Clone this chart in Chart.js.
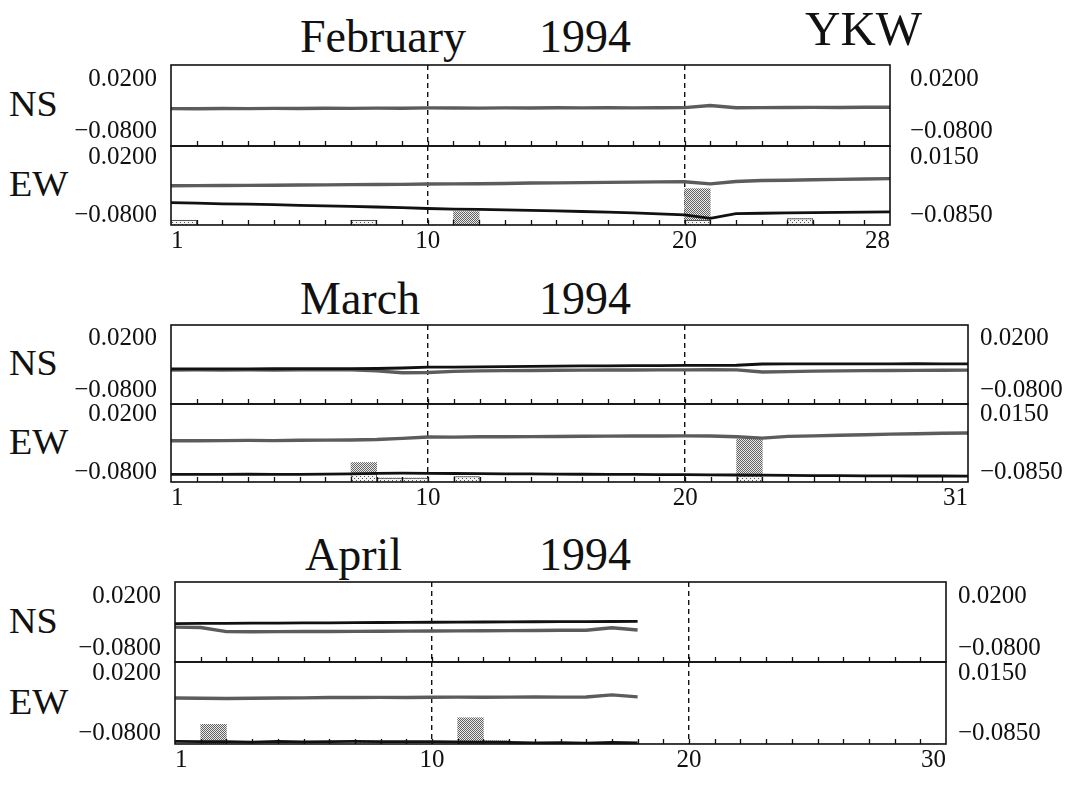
<!DOCTYPE html>
<html>
<head>
<meta charset="utf-8">
<script src="https://cdn.jsdelivr.net/npm/chart.js@4.4.0/dist/chart.umd.min.js"></script>
<style>
  body { margin: 0; background: #fff; }
  #page { position: relative; width: 1082px; height: 785px; font-family: "Liberation Serif", "Times New Roman", serif; color: #111; }
  .t { position: absolute; white-space: nowrap; line-height: 1; }
  .title { font-size: 46px; }
  .comp { font-size: 36px; transform: scaleX(1.06); transform-origin: left center; }
  canvas { position: absolute; left: 0; }
</style>
</head>
<body>
<div id="page">
  <div class="t title" style="left:300px;top:14px">February</div>
  <div class="t title" style="left:539px;top:14px">1994</div>
  <div class="t" style="left:805px;top:4px;font-size:49px">YKW</div>
  <div class="t comp" style="left:9px;top:86px">NS</div>
  <div class="t comp" style="left:9px;top:166px">EW</div>

  <div class="t title" style="left:300px;top:276px">March</div>
  <div class="t title" style="left:539px;top:276px">1994</div>
  <div class="t comp" style="left:9px;top:345px">NS</div>
  <div class="t comp" style="left:9px;top:424px">EW</div>

  <div class="t title" style="left:305px;top:532px">April</div>
  <div class="t title" style="left:539px;top:532px">1994</div>
  <div class="t comp" style="left:9px;top:603px">NS</div>
  <div class="t comp" style="left:9px;top:684px">EW</div>
</div>
<script>
// tick values
const nsTicks = [-0.08, 0.02];
const ewLeftTicks = [-0.08, 0.02];
const ewRightTicks = [-0.085, 0.015];

// February (days elapsed 0..28)
const febDays = [0,1,2,3,4,5,6,7,8,9,10,11,12,13,14,15,16,17,18,19,20,21,22,23,24,25,26,27,28];
const febNsGray = [-0.0360,-0.0362,-0.0358,-0.0360,-0.0355,-0.0358,-0.0352,-0.0355,-0.0350,-0.0352,-0.0345,-0.0348,-0.0350,-0.0346,-0.0348,-0.0344,-0.0346,-0.0342,-0.0345,-0.0342,-0.0340,-0.0300,-0.0342,-0.0340,-0.0338,-0.0336,-0.0338,-0.0334,-0.0333];
const febEwGray = [-0.0295,-0.0292,-0.0290,-0.0288,-0.0286,-0.0282,-0.0280,-0.0275,-0.0272,-0.0270,-0.0265,-0.0262,-0.0260,-0.0255,-0.0248,-0.0245,-0.0240,-0.0236,-0.0232,-0.0228,-0.0225,-0.0262,-0.0220,-0.0205,-0.0200,-0.0192,-0.0185,-0.0178,-0.0172];
const febEwBlack = [-0.0586,-0.0595,-0.0605,-0.0612,-0.0620,-0.0632,-0.0640,-0.0650,-0.0660,-0.0672,-0.0686,-0.0695,-0.0702,-0.0710,-0.0717,-0.0728,-0.0738,-0.0748,-0.0762,-0.0778,-0.0796,-0.0855,-0.0775,-0.0768,-0.0762,-0.0758,-0.0752,-0.0748,-0.0743];
const febLight = [6,0,0,0,0,0,0,6,0,0,0,0,0,0,0,0,0,0,0,0,6,0,0,0,8,0,0,0];
const febDark = [0,0,0,0,0,0,0,0,0,0,0,17,0,0,0,0,0,0,0,0,40,0,0,0,0,0,0,0];

// March (0..31)
const marDays = [0,1,2,3,4,5,6,7,8,9,10,11,12,13,14,15,16,17,18,19,20,21,22,23,24,25,26,27,28,29,30,31];
const marNsGray = [-0.0407,-0.0405,-0.0407,-0.0404,-0.0406,-0.0403,-0.0405,-0.0404,-0.0425,-0.0460,-0.0455,-0.0435,-0.0425,-0.0420,-0.0418,-0.0412,-0.0410,-0.0408,-0.0406,-0.0405,-0.0404,-0.0402,-0.0405,-0.0445,-0.0438,-0.0430,-0.0425,-0.0420,-0.0418,-0.0415,-0.0412,-0.0410];
const marNsBlack = [-0.0386,-0.0386,-0.0384,-0.0385,-0.0383,-0.0382,-0.0382,-0.0380,-0.0378,-0.0368,-0.0352,-0.0350,-0.0345,-0.0340,-0.0335,-0.0330,-0.0328,-0.0325,-0.0322,-0.0320,-0.0318,-0.0316,-0.0315,-0.0290,-0.0288,-0.0288,-0.0286,-0.0288,-0.0286,-0.0285,-0.0286,-0.0286];
const marEwGray = [-0.0252,-0.0250,-0.0248,-0.0245,-0.0248,-0.0242,-0.0240,-0.0238,-0.0230,-0.0210,-0.0185,-0.0188,-0.0182,-0.0180,-0.0178,-0.0176,-0.0172,-0.0170,-0.0168,-0.0168,-0.0166,-0.0168,-0.0182,-0.0205,-0.0175,-0.0165,-0.0155,-0.0145,-0.0135,-0.0128,-0.0120,-0.0116];
const marEwBlack = [-0.0838,-0.0836,-0.0838,-0.0835,-0.0838,-0.0836,-0.0834,-0.0828,-0.0820,-0.0815,-0.0818,-0.0822,-0.0825,-0.0828,-0.0830,-0.0832,-0.0835,-0.0836,-0.0838,-0.0840,-0.0842,-0.0845,-0.0848,-0.0850,-0.0855,-0.0858,-0.0860,-0.0862,-0.0864,-0.0865,-0.0865,-0.0866];
const marLight = [0,0,0,0,0,0,0,10,5,5,0,7,0,0,0,0,0,0,0,0,0,0,8,0,0,0,0,0,0,0,0];
const marDark = [0,0,0,0,0,0,0,15,0,0,0,0,0,0,0,0,0,0,0,0,0,0,47,0,0,0,0,0,0,0,0];

// April (record stops after day 18)
const aprDays = [0,1,2,3,4,5,6,7,8,9,10,11,12,13,14,15,16,17,18];
const aprNsGray = [-0.0398,-0.0405,-0.0485,-0.0488,-0.0486,-0.0484,-0.0482,-0.0480,-0.0478,-0.0475,-0.0472,-0.0470,-0.0468,-0.0466,-0.0463,-0.0460,-0.0458,-0.0410,-0.0455];
const aprNsBlack = [-0.0330,-0.0328,-0.0326,-0.0323,-0.0320,-0.0318,-0.0315,-0.0312,-0.0310,-0.0308,-0.0305,-0.0302,-0.0300,-0.0298,-0.0295,-0.0292,-0.0292,-0.0290,-0.0288];
const aprEwGray = [-0.0208,-0.0210,-0.0215,-0.0212,-0.0208,-0.0205,-0.0200,-0.0198,-0.0196,-0.0198,-0.0195,-0.0193,-0.0195,-0.0192,-0.0190,-0.0192,-0.0190,-0.0155,-0.0188];
const aprEwBlack = [-0.0928,-0.0932,-0.0930,-0.0938,-0.0928,-0.0934,-0.0930,-0.0928,-0.0932,-0.0929,-0.0931,-0.0934,-0.0940,-0.0944,-0.0952,-0.0946,-0.0955,-0.0944,-0.0950];
const aprLight = [0,0,0,0,0,0,0,3,3,0,0,0,4,0,0,0,0,0,0,0,0,0,0,0,0,0,0,0,0,0];
const aprDark = [0,24,0,0,0,0,0,0,0,0,0,32,0,0,0,0,0,0,0,0,0,0,0,0,0,0,0,0,0,0];

const FONT = 'Liberation Serif';
const INK = '#111';
const W = 1082;

function stipple(bg, dot, step) {
  const c = document.createElement('canvas');
  c.width = c.height = step;
  const g = c.getContext('2d');
  g.fillStyle = bg;
  g.fillRect(0, 0, step, step);
  g.fillStyle = dot;
  g.fillRect(0, 0, 1, 1);
  g.fillRect(step / 2, step / 2, 1, 1);
  return g.createPattern(c, 'repeat');
}
const darkFill = stipple('#ececec', '#606060', 2);
const lightFill = stipple('#f4f4f4', '#555', 4);

const fmt = v => (v < 0 ? '\u2212' : '') + Math.abs(v).toFixed(4);

// box outline + small day ticks standing up from the bottom edge
const frame = {
  id: 'frame',
  afterDraw(chart) {
    const { ctx, chartArea: a } = chart;
    const x = chart.scales.x;
    ctx.save();
    ctx.strokeStyle = INK;
    ctx.lineWidth = 1.3;
    ctx.beginPath();
    for (let d = 1; d < x.max; d++) {
      const px = Math.round(x.getPixelForValue(d)) + 0.5;
      ctx.moveTo(px, a.bottom);
      ctx.lineTo(px, a.bottom - 5);
    }
    ctx.stroke();
    ctx.lineWidth = 1.6;
    ctx.strokeRect(a.left, a.top, a.right - a.left, a.bottom - a.top);
    ctx.restore();
  }
};

function panel(p) {
  const cv = document.createElement('canvas');
  const xAxisH = p.ew ? 36 : 0;
  const h = 4 + (p.bottom - p.top) + (p.ew ? xAxisH : 4);
  cv.width = W;
  cv.height = h;
  cv.style.top = (p.top - 4) + 'px';
  document.getElementById('page').appendChild(cv);

  const pts = arr => p.days.map((d, i) => ({ x: d, y: arr[i] }));
  const datasets = [];
  if (p.black) datasets.push({ type: 'line', data: pts(p.black), borderColor: '#111', borderWidth: 2.8, pointRadius: 0, order: 1, yAxisID: 'y' });
  datasets.push({ type: 'line', data: pts(p.gray), borderColor: '#5c5c5c', borderWidth: 3.4, pointRadius: 0, order: 2, yAxisID: 'y' });
  if (p.light) {
    datasets.push({ type: 'bar', data: p.light.map((v, i) => ({ x: i + 0.5, y: v })), backgroundColor: lightFill, borderColor: '#555', borderWidth: 1, stack: 's', yAxisID: 'yb', order: 3, categoryPercentage: 1, barPercentage: 1 });
    datasets.push({ type: 'bar', data: p.dark.map((v, i) => ({ x: i + 0.5, y: v })), backgroundColor: darkFill, borderWidth: 0, stack: 's', yAxisID: 'yb', order: 3, categoryPercentage: 1, barPercentage: 1 });
  }

  const tickFont = { family: FONT, size: 25 };
  new Chart(cv, {
    type: 'line',
    data: { datasets },
    options: {
      responsive: false,
      animation: false,
      events: [],
      layout: { padding: { top: 4, bottom: p.ew ? 0 : 4, left: 0, right: 10 } },
      plugins: { legend: { display: false }, tooltip: { enabled: false } },
      scales: {
        x: {
          type: 'linear', min: 0, max: p.xMax, offset: false,
          afterBuildTicks: s => { s.ticks = p.xTicks.map(v => ({ value: v })); },
          afterFit: s => { s.height = xAxisH; s.paddingLeft = 0; s.paddingRight = 0; },
          ticks: { display: p.ew, autoSkip: false, maxRotation: 0, align: 'inner', padding: 1, color: INK, font: tickFont, callback: v => (v === 0 ? '1' : String(v)) },
          grid: { offset: false, drawTicks: false, lineWidth: 1.4, color: c => (c.tick && (c.tick.value === 10 || c.tick.value === 20)) ? INK : 'rgba(0,0,0,0)' },
          border: { display: false, dash: [5, 4] }
        },
        y: {
          position: 'left', min: p.yMin, max: p.yMax,
          afterBuildTicks: s => { s.ticks = p.lTicks.map(v => ({ value: v })); },
          afterFit: s => { s.width = p.left; s.paddingTop = 0; s.paddingBottom = 0; },
          ticks: { padding: 14, color: INK, font: tickFont, callback: fmt },
          grid: { display: false, drawTicks: false }, border: { display: false }
        },
        y2: {
          position: 'right', min: p.rMin, max: p.rMax,
          afterBuildTicks: s => { s.ticks = p.rTicks.map(v => ({ value: v })); },
          afterFit: s => { s.width = W - 10 - p.right; s.paddingTop = 0; s.paddingBottom = 0; },
          ticks: { padding: p.rPad, color: INK, font: tickFont, callback: fmt },
          grid: { display: false, drawTicks: false }, border: { display: false }
        },
        yb: { display: false, min: 0, max: 100, stacked: true }
      }
    },
    plugins: [frame]
  });
}

const nsRange = { yMin: -0.107, yMax: 0.047, rMin: -0.107, rMax: 0.047, lTicks: nsTicks, rTicks: nsTicks };
const ewRange = { yMin: -0.097, yMax: 0.039, rMin: -0.102, rMax: 0.034, lTicks: ewLeftTicks, rTicks: ewRightTicks };

// February
panel({ ...nsRange, top: 65, bottom: 146, left: 171, right: 890, rPad: 20, xMax: 28, xTicks: [0, 10, 20, 28], days: febDays, gray: febNsGray });
panel({ ...ewRange, ew: true, top: 146, bottom: 225, left: 171, right: 890, rPad: 20, xMax: 28, xTicks: [0, 10, 20, 28], days: febDays, gray: febEwGray, black: febEwBlack, light: febLight, dark: febDark });
// March
panel({ ...nsRange, top: 325, bottom: 404, left: 171, right: 968, rPad: 12, xMax: 31, xTicks: [0, 10, 20, 31], days: marDays, gray: marNsGray, black: marNsBlack });
panel({ ...ewRange, ew: true, top: 404, bottom: 482, left: 171, right: 968, rPad: 12, xMax: 31, xTicks: [0, 10, 20, 31], days: marDays, gray: marEwGray, black: marEwBlack, light: marLight, dark: marDark });
// April
panel({ ...nsRange, top: 582, bottom: 662, left: 175, right: 946, rPad: 12, xMax: 30, xTicks: [0, 10, 20, 30], days: aprDays, gray: aprNsGray, black: aprNsBlack });
panel({ ...ewRange, ew: true, top: 662, bottom: 744, left: 175, right: 946, rPad: 12, xMax: 30, xTicks: [0, 10, 20, 30], days: aprDays, gray: aprEwGray, black: aprEwBlack, light: aprLight, dark: aprDark });
</script>
</body>
</html>
